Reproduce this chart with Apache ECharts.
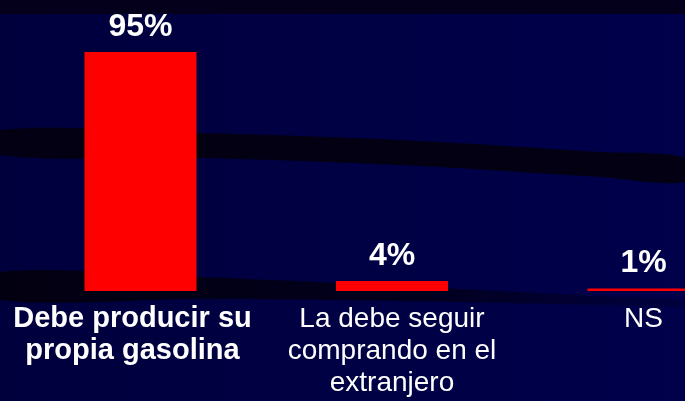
<!DOCTYPE html>
<html>
<head>
<meta charset="utf-8">
<script src="https://cdn.jsdelivr.net/npm/echarts@6/dist/echarts.min.js"></script>
<style>
html,body{margin:0;padding:0;background:#00003f;}
#chart{width:685px;height:401px;}
</style>
</head>
<body>
<div id="chart"></div>
<script>
const categories = ['Debe producir su\npropia gasolina', 'La debe seguir\ncomprando en el\nextranjero', 'NS'];
const values = [95, 4, 1];
const valueLabels = ['95%', '4%', '1%'];

const chart = echarts.init(document.getElementById('chart'));

function band(top, bottom) {
  return top.concat(bottom.slice().reverse());
}

const option = {
  animation: false,
  backgroundColor: {
    type: 'linear', x: 0, y: 0, x2: 1, y2: 0,
    colorStops: [{offset: 0, color: '#00003d'}, {offset: 1, color: '#00004b'}]
  },
  graphic: [
    {type: 'rect', z: -10, shape: {x: 0, y: 0, width: 685, height: 14}, style: {fill: '#04001c'}},
    {type: 'polygon', z: -10, shape: {smooth: 0.3, points: band(
      [[0,130],[200,133],[400,140],[600,152],[685,158]],
      [[0,155],[200,158],[400,165],[600,177],[685,182]])},
      style: {fill: '#020012'}},
    {type: 'polygon', z: -10, shape: {smooth: 0.3, points: band(
      [[0,272],[200,277],[400,286],[600,296],[685,300]],
      [[0,300],[200,299],[400,301],[600,305],[685,307]])},
      style: {fill: {type: 'linear', x: 0, y: 0, x2: 1, y2: 0,
        colorStops: [{offset: 0, color: '#020010'}, {offset: 0.6, color: '#02001c'}, {offset: 1, color: '#000040'}]}}}
  ],
  grid: {left: 14.75, width: 754.5, top: 39.4, bottom: 110, containLabel: false, outerBoundsMode: 'none'},
  xAxis: {
    type: 'category',
    data: categories,
    axisLine: {show: false},
    axisTick: {show: false},
    axisLabel: {
      interval: 0,
      margin: 12,
      formatter: function (v, i) {
        const lines = v.split('\n');
        const key = i === 0 ? 'b' : 'r';
        return lines.map(l => '{' + key + '|' + l + '}').join('\n');
      },
      rich: {
        b: {color: '#ffffff', fontFamily: 'Liberation Sans, Arial, sans-serif', fontWeight: 'bold', fontSize: 29, lineHeight: 32, padding: [0, 16, 0, 0]},
        r: {color: '#ffffff', fontFamily: 'Liberation Sans, Arial, sans-serif', fontSize: 28, lineHeight: 32}
      }
    }
  },
  yAxis: {
    type: 'value', min: 0, max: 100,
    show: false,
    splitLine: {show: false}
  },
  series: [{
    type: 'bar',
    barWidth: 112,
    data: values.map((v, i) => ({value: v, label: {formatter: valueLabels[i]}})),
    itemStyle: {color: '#ff0000'},
    label: {
      show: true,
      position: 'top',
      distance: 9,
      color: '#ffffff',
      fontFamily: 'Liberation Sans, Arial, sans-serif',
      fontWeight: 'bold',
      fontSize: 32
    }
  }]
};
chart.setOption(option);
</script>
</body>
</html>
